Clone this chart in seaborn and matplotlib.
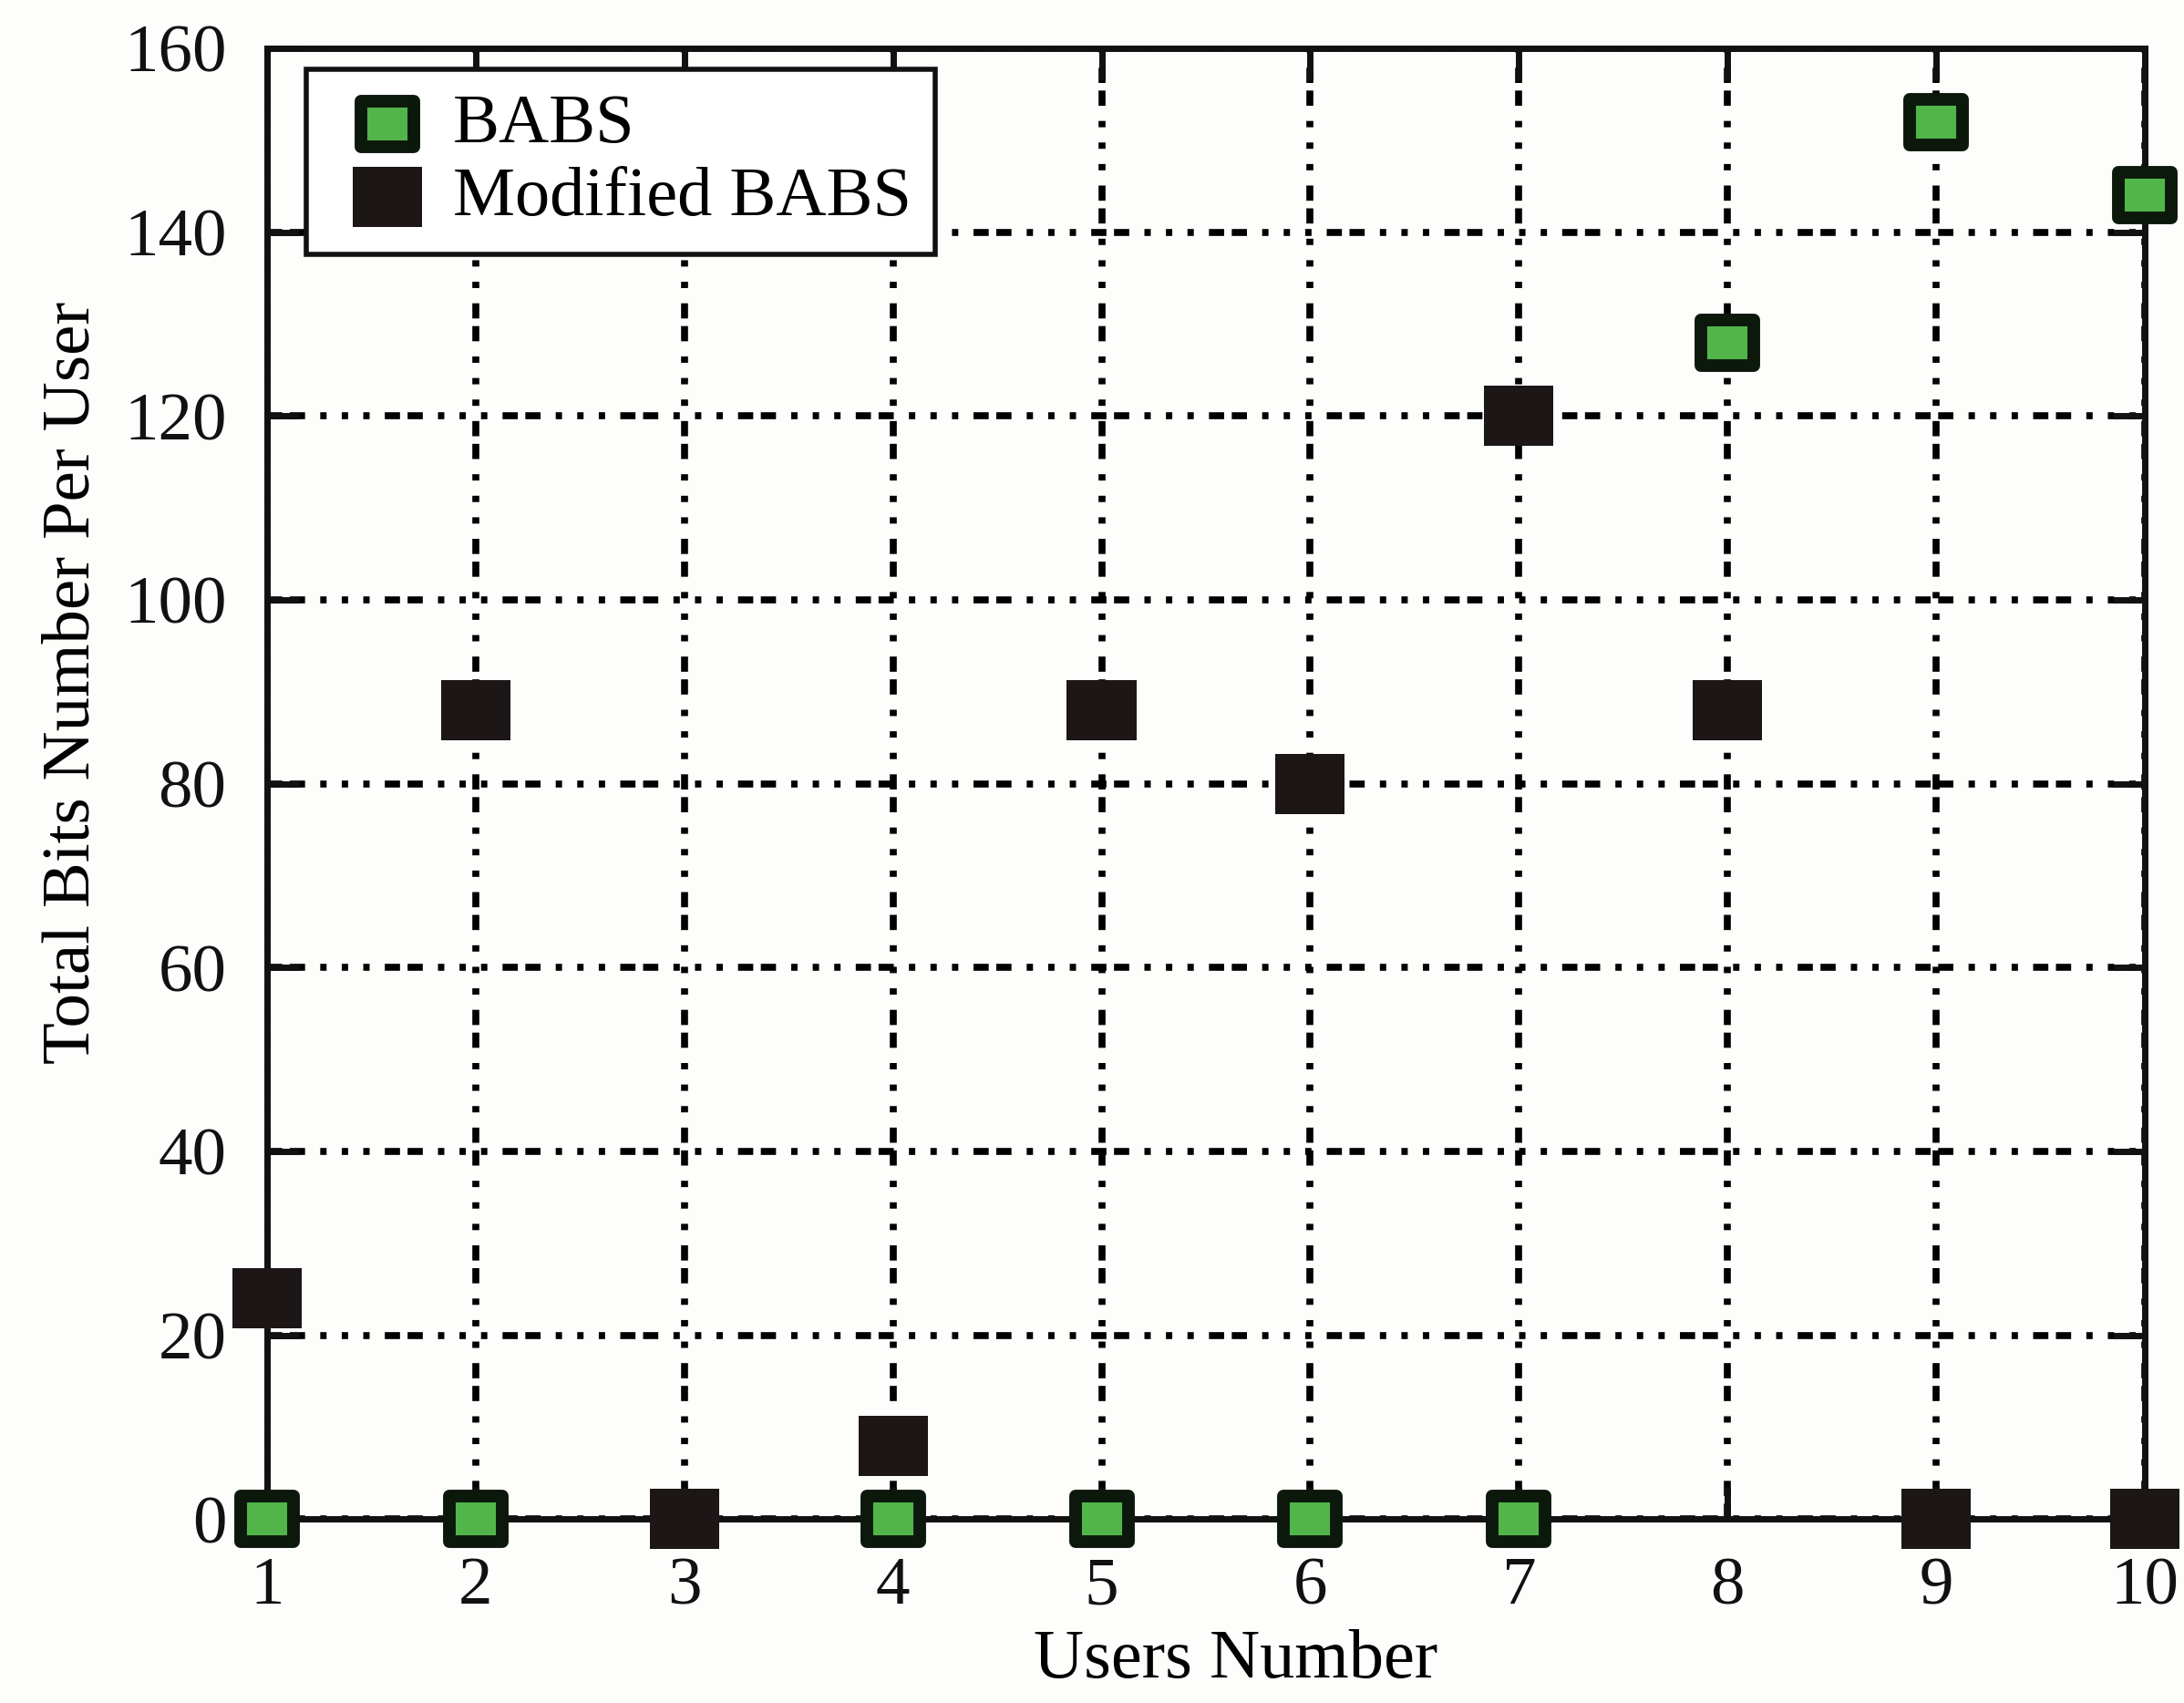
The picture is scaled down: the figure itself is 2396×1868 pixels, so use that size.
import matplotlib
matplotlib.use("Agg")
import matplotlib.pyplot as plt
from matplotlib.path import Path
import pandas as pd
import seaborn as sns

# data
users = [1, 2, 3, 4, 5, 6, 7, 8, 9, 10]
babs = [0, 0, 0, 0, 0, 0, 0, 128, 152, 144]
modified_babs = [24, 88, 0, 8, 88, 80, 120, 88, 0, 0]
x_ticks = [1, 2, 3, 4, 5, 6, 7, 8, 9, 10]
y_ticks = [0, 20, 40, 60, 80, 100, 120, 140, 160]

df_babs = pd.DataFrame({"users": users, "bits": babs})
df_mod = pd.DataFrame({"users": users, "bits": modified_babs})

plt.rcParams['font.family'] = ['Liberation Serif', 'DejaVu Serif']
plt.rcParams['lines.scale_dashes'] = False

bg = '#fdfdfb'
fig = plt.figure(figsize=(23.96, 18.68), dpi=100, facecolor=bg)
ax = fig.add_axes([0.1223, 0.108, 0.8597, 0.8636], facecolor=bg)

# slightly wide square marker, like the original bitmap
rect = Path([(-0.575, -0.5), (0.575, -0.5), (0.575, 0.5), (-0.575, 0.5), (-0.575, -0.5)],
            closed=True)

sns.scatterplot(data=df_babs, x="users", y="bits", ax=ax, marker=rect, s=1745,
                color='#52b54a', edgecolor='#0c180c', linewidth=10,
                clip_on=False, zorder=4, label='BABS')
sns.scatterplot(data=df_mod, x="users", y="bits", ax=ax, marker=rect, s=3000,
                color='#1c1616', edgecolor='none', linewidth=0,
                clip_on=False, zorder=5, label='Modified BABS')

ax.set_xlim(1, 10)
ax.set_ylim(0, 160)
ax.set_xticks(x_ticks)
ax.set_yticks(y_ticks)

# gnuplot-ish dotted grid
ax.grid(True, color='black', linewidth=5.5,
        linestyle=(0, (12, 6, 12, 12, 5, 12, 5, 12, 5, 12)))
ax.set_axisbelow(True)

for sp in ax.spines.values():
    sp.set_linewidth(5)
    sp.set_color('#111111')

ax.tick_params(axis='both', which='major', direction='in', length=25, width=5,
               top=True, right=True, labelsize=54, colors='#111111')
ax.tick_params(axis='y', pad=32)
ax.tick_params(axis='x', pad=30)

ax.set_xlabel('Users Number', fontsize=55)
ax.set_ylabel('Total Bits Number Per User', fontsize=54)
ax.xaxis.set_label_coords(0.516, -0.075)
ax.yaxis.set_label_coords(-0.087, 0.569)

leg = ax.legend(loc='upper left', bbox_to_anchor=(0.021, 0.986), borderaxespad=0,
                fontsize=55, frameon=True, fancybox=False, framealpha=1,
                edgecolor='#111111', facecolor='white', handletextpad=0.13,
                labelspacing=0.14, borderpad=0.35, handlelength=1.62)
leg.get_frame().set_linewidth(4)
leg.set_zorder(10)

fig.savefig('out.png', dpi=100, facecolor=bg)
